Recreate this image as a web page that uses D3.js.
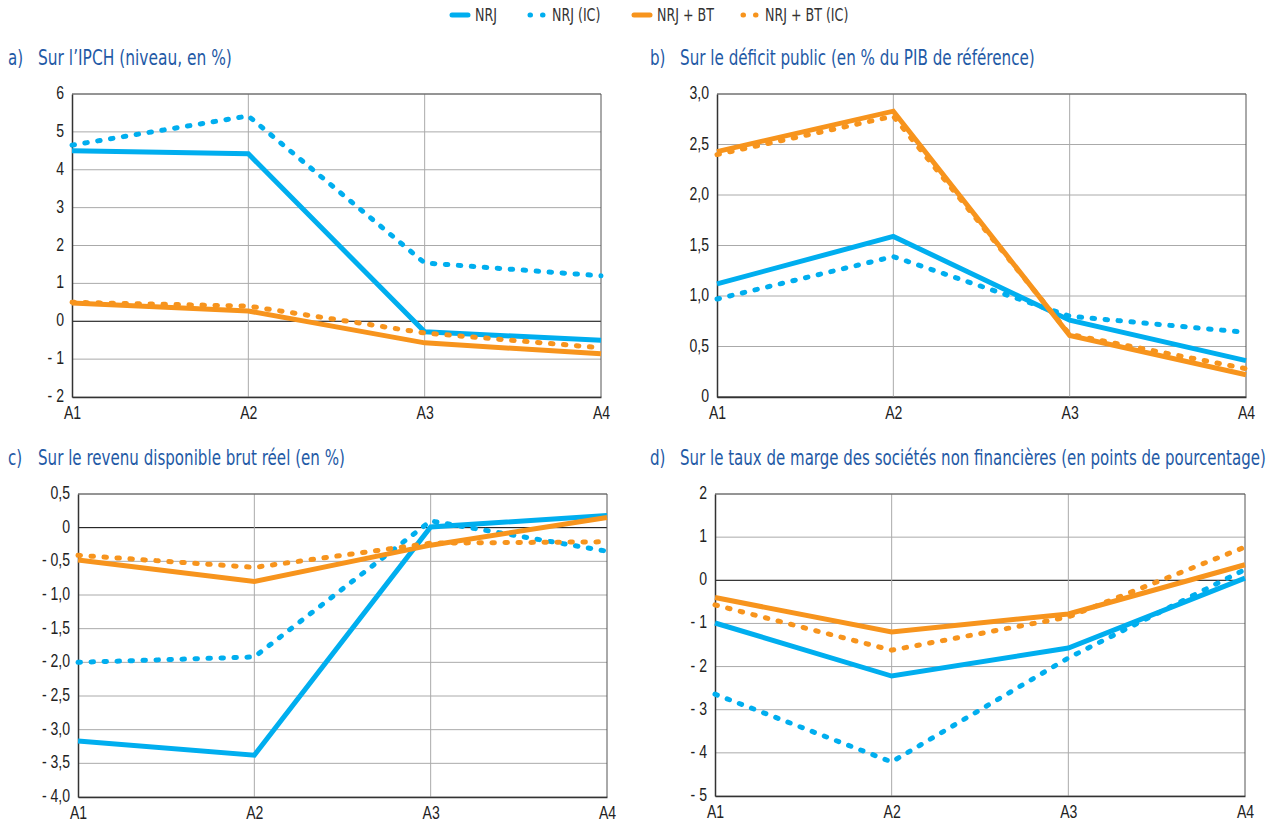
<!DOCTYPE html>
<html>
<head>
<meta charset="utf-8">
<script src="https://cdn.jsdelivr.net/npm/d3@7"></script>
<style>
  body { margin: 0; background: #fff; }
  svg { font-family: "DejaVu Sans Condensed", "DejaVu Sans", sans-serif; font-stretch: condensed; }
</style>
</head>
<body>
<svg id="chart" width="1280" height="827"></svg>
<script>
// categories and series
var categories = ["A1", "A2", "A3", "A4"];
var seriesNames = ["NRJ", "NRJ (IC)", "NRJ + BT", "NRJ + BT (IC)"];

// a) IPCH
var ipchNrj = [4.5, 4.42, -0.28, -0.5];
var ipchNrjIc = [4.65, 5.42, 1.54, 1.2];
var ipchNrjBt = [0.48, 0.27, -0.57, -0.86];
var ipchNrjBtIc = [0.5, 0.4, -0.31, -0.7];

// b) deficit public
var defNrj = [1.12, 1.59, 0.76, 0.36];
var defNrjIc = [0.97, 1.39, 0.8, 0.64];
var defNrjBt = [2.43, 2.83, 0.61, 0.22];
var defNrjBtIc = [2.4, 2.78, 0.62, 0.28];

// c) revenu disponible brut reel
var rdbNrj = [-3.17, -3.38, 0.01, 0.18];
var rdbNrjIc = [-2.0, -1.92, 0.1, -0.35];
var rdbNrjBt = [-0.48, -0.8, -0.26, 0.15];
var rdbNrjBtIc = [-0.41, -0.59, -0.23, -0.21];

// d) taux de marge SNF
var margeNrj = [-0.99, -2.22, -1.57, 0.05];
var margeNrjIc = [-2.64, -4.21, -1.8, 0.25];
var margeNrjBt = [-0.4, -1.2, -0.78, 0.36];
var margeNrjBtIc = [-0.57, -1.62, -0.85, 0.77];

// y tick values
var ipchTicks = [6, 5, 4, 3, 2, 1, 0, -1, -2];
var defTicks = [3, 2.5, 2, 1.5, 1, 0.5, 0];
var rdbTicks = [0.5, 0, -0.5, -1, -1.5, -2, -2.5, -3, -3.5, -4];
var margeTicks = [2, 1, 0, -1, -2, -3, -4, -5];

var colors = ["#00aeef", "#00aeef", "#f7941d", "#f7941d"];
var dotted = [false, true, false, true];
var titleColor = "#1f5aa6";

var svg = d3.select("#chart");

// squeeze text horizontally to mimic the narrow font of the original
function condense(sel, factor) {
    sel.each(function() {
        var w = this.getComputedTextLength();
        d3.select(this).attr("textLength", w * factor).attr("lengthAdjust", "spacingAndGlyphs");
    });
}

// panels layout
var panels = [
    {letter: "a)", title: "Sur l\u2019IPCH (niveau, en %)", tx: 8, ty: 65, tw: 194,
     x0: 72, x1: 601, y0: 94, y1: 397, ticks: ipchTicks, dec: 0,
     series: [ipchNrj, ipchNrjIc, ipchNrjBt, ipchNrjBtIc]},
    {letter: "b)", title: "Sur le d\u00e9ficit public (en % du PIB de r\u00e9f\u00e9rence)", tx: 650, ty: 65, tw: 355,
     x0: 717, x1: 1246, y0: 94, y1: 397, ticks: defTicks, dec: 1,
     series: [defNrj, defNrjIc, defNrjBt, defNrjBtIc]},
    {letter: "c)", title: "Sur le revenu disponible brut r\u00e9el (en %)", tx: 8, ty: 465, tw: 307,
     x0: 78, x1: 607, y0: 494, y1: 797, ticks: rdbTicks, dec: 1,
     series: [rdbNrj, rdbNrjIc, rdbNrjBt, rdbNrjBtIc]},
    {letter: "d)", title: "Sur le taux de marge des soci\u00e9t\u00e9s non financi\u00e8res (en points de pourcentage)", tx: 650, ty: 465, tw: 586,
     x0: 715, x1: 1245, y0: 494, y1: 796, ticks: margeTicks, dec: 0,
     series: [margeNrj, margeNrjIc, margeNrjBt, margeNrjBtIc]}
];

function fmt(v, dec) {
    if (v === 0) return "0";
    var s = d3.format("." + dec + "f")(Math.abs(v)).replace(".", ",");
    return v < 0 ? "- " + s : s;
}

panels.forEach(function(p) {
    var g = svg.append("g");

    var x = d3.scalePoint().domain(categories).range([p.x0, p.x1]);
    var y = d3.scaleLinear().domain(d3.extent(p.ticks)).range([p.y1, p.y0]);

    // title (scaled to the width of the original narrow lettering)
    g.append("text").attr("x", p.tx).attr("y", p.ty)
        .attr("fill", titleColor).attr("font-size", "21px").text(p.letter)
        .call(condense, 0.8);
    var t = g.append("text")
        .attr("fill", titleColor).attr("font-size", "21px")
        .text(p.title);
    var sx = p.tw / t.node().getComputedTextLength();
    t.attr("transform", "translate(" + (p.tx + 30) + "," + p.ty + ") scale(" + sx + ",1)");

    // horizontal gridlines
    g.selectAll(".hgrid").data(p.ticks).enter().append("line")
        .attr("x1", p.x0).attr("x2", p.x1)
        .attr("y1", function(d) { return y(d); })
        .attr("y2", function(d) { return y(d); })
        .attr("stroke", function(d) { return d === 0 ? "#000" : "#aaa"; })
        .attr("stroke-width", 1);

    // vertical gridlines
    g.selectAll(".vgrid").data(categories.slice(1)).enter().append("line")
        .attr("x1", function(d) { return x(d); })
        .attr("x2", function(d) { return x(d); })
        .attr("y1", p.y0).attr("y2", p.y1)
        .attr("stroke", function(d, i) { return i === 2 ? "#555" : "#aaa"; })
        .attr("stroke-width", 1);

    // top border
    g.append("line").attr("x1", p.x0).attr("x2", p.x1).attr("y1", p.y0).attr("y2", p.y0)
        .attr("stroke", "#555");

    // y axis
    var yAxis = g.append("g")
        .attr("transform", "translate(" + p.x0 + ",0)")
        .call(d3.axisLeft(y).tickValues(p.ticks).tickSize(0).tickPadding(8)
            .tickFormat(function(d) { return fmt(d, p.dec); }));
    yAxis.select(".domain").attr("stroke", "#333").attr("stroke-width", 1.5);
    yAxis.selectAll("text").attr("font-size", "18px").attr("fill", "#222")
        .attr("font-family", null).attr("dy", "0.25em")
        .call(condense, 0.78);

    // x axis
    var xAxis = g.append("g")
        .attr("transform", "translate(0," + p.y1 + ")")
        .call(d3.axisBottom(x).tickSize(0).tickPadding(9));
    xAxis.select(".domain").attr("stroke", "#333").attr("stroke-width", 1.5);
    xAxis.selectAll("text").attr("font-size", "18px").attr("fill", "#222")
        .attr("font-family", null)
        .call(condense, 0.78);

    // lines
    var line = d3.line()
        .x(function(d, i) { return x(categories[i]); })
        .y(function(d) { return y(d); });

    p.series.forEach(function(s, i) {
        g.append("path")
            .datum(s)
            .attr("d", line)
            .attr("fill", "none")
            .attr("stroke", colors[i])
            .attr("stroke-width", 5)
            .attr("stroke-linecap", dotted[i] ? "round" : "butt")
            .attr("stroke-linejoin", "miter")
            .attr("stroke-dasharray", dotted[i] ? "2.5 10.5" : null);
    });
});

// legend
var legendX = [450, 527, 632, 740];
var legend = svg.append("g");
seriesNames.forEach(function(name, i) {
    var lx = legendX[i];
    if (dotted[i]) {
        legend.append("line").attr("x1", lx + 3).attr("x2", lx + 17).attr("y1", 15).attr("y2", 15)
            .attr("stroke", colors[i]).attr("stroke-width", 5).attr("stroke-linecap", "round")
            .attr("stroke-dasharray", "0.5 12");
    } else {
        legend.append("line").attr("x1", lx + 2).attr("x2", lx + 18).attr("y1", 15).attr("y2", 15)
            .attr("stroke", colors[i]).attr("stroke-width", 5).attr("stroke-linecap", "round");
    }
    legend.append("text").attr("x", lx + 25).attr("y", 21)
        .attr("font-size", "18px").attr("fill", "#333").text(name)
        .call(condense, 0.78);
});
</script>
</body>
</html>
